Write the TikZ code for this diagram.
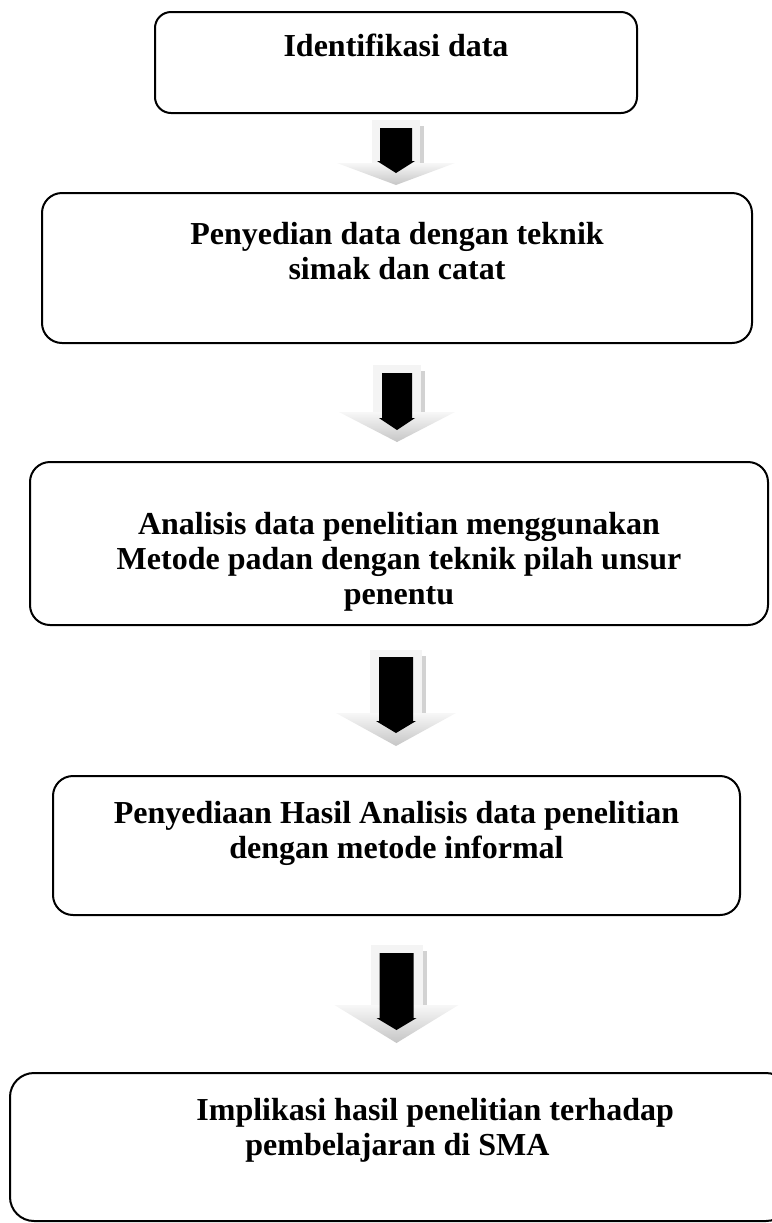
\documentclass[tikz,border=0pt]{standalone}
\usepackage{fontspec}
\setmainfont{Liberation Serif}
\usetikzlibrary{positioning}

\tikzset{
  stepbox/.style={draw, line width=1pt, rounded corners=10pt, inner sep=0pt, outer sep=0pt},
  steptext/.style={font=\fontsize{16pt}{17.5pt}\selectfont\bfseries, align=center, inner sep=0pt, anchor=north},
  arrowbody/.style={fill=gray!9},
  arrowshadow/.style={fill=gray!35},
  arrowhead/.style={top color=gray!6, bottom color=gray!45},
  arrowcore/.style={fill=black}
}

\begin{document}
\begin{tikzpicture}[x=0.5pt, y=-0.5pt]
  \useasboundingbox (0,0) rectangle (772,1223);
  \clip (0,0) rectangle (772,1223);

  % the five steps
  \node[stepbox, rounded corners=8pt, minimum width=241pt, minimum height=50.5pt] (b1) at (396,62.5) {};
  \node[stepbox, minimum width=355pt, minimum height=75pt] (b2) at (397,268) {};
  \node[stepbox, minimum width=369pt, minimum height=81.5pt] (b3) at (399,543.5) {};
  \node[stepbox, minimum width=343.5pt, minimum height=69.5pt] (b4) at (396.5,845.5) {};
  \node[stepbox, rounded corners=12pt, minimum width=390pt, minimum height=74pt] (b5) at (400,1147) {};

  \node[steptext, below=11pt of b1.north] (t1) {Identifikasi data};
  \node[steptext, below=14.5pt of b2.north] (t2) {Penyedian data dengan teknik\\simak dan catat};
  \node[steptext, below=25pt of b3.north] (t3) {Analisis data penelitian menggunakan\\Metode padan dengan teknik pilah unsur\\penentu};
  \node[steptext, below=12.5pt of b4.north] (t4) {Penyediaan Hasil Analisis data penelitian\\dengan metode informal};
  \node[steptext, align=left, below right=12.5pt and 93pt of b5.north west] (t5) {Implikasi hasil penelitian terhadap\\\hspace*{24.5pt}pembelajaran di SMA};

  % block arrows
  \begin{scope}[shift={(b1.south)}]
    \fill[arrowshadow] (24,13) rectangle (28,50);
    \fill[arrowbody] (-24,7) rectangle (24,50);
    \shade[arrowhead] (-59,50) -- (59,50) -- (0,72) -- cycle;
    \fill[arrowcore] (-16,15) -- (16,15) -- (16,48) -- (19,48) -- (0,60) -- (-19,48) -- (-16,48) -- cycle;
  \end{scope}

  \begin{scope}[shift={(b2.south)}]
    \fill[arrowshadow] (24,28) rectangle (28,69);
    \fill[arrowbody] (-24,22) rectangle (24,69);
    \shade[arrowhead] (-58,69) -- (58,69) -- (0,99) -- cycle;
    \fill[arrowcore] (-15,30) -- (15,30) -- (15,75) -- (18,75) -- (0,87) -- (-18,75) -- (-15,75) -- cycle;
  \end{scope}

  \begin{scope}[shift={([xshift=-1.5pt]b3.south)}]
    \fill[arrowshadow] (26,31) rectangle (30,88);
    \fill[arrowbody] (-26,25) rectangle (26,88);
    \shade[arrowhead] (-60,88) -- (60,88) -- (0,121) -- cycle;
    \fill[arrowcore] (-17,32) -- (17,32) -- (17,96) -- (20,96) -- (0,108) -- (-20,96) -- (-17,96) -- cycle;
  \end{scope}

  \begin{scope}[shift={(b4.south)}]
    \fill[arrowshadow] (26,36) rectangle (30,90);
    \fill[arrowbody] (-26,30) rectangle (26,90);
    \shade[arrowhead] (-62,90) -- (62,90) -- (0,128) -- cycle;
    \fill[arrowcore] (-17,38) -- (17,38) -- (17,103) -- (20,103) -- (0,115) -- (-20,103) -- (-17,103) -- cycle;
  \end{scope}
\end{tikzpicture}
\end{document}
